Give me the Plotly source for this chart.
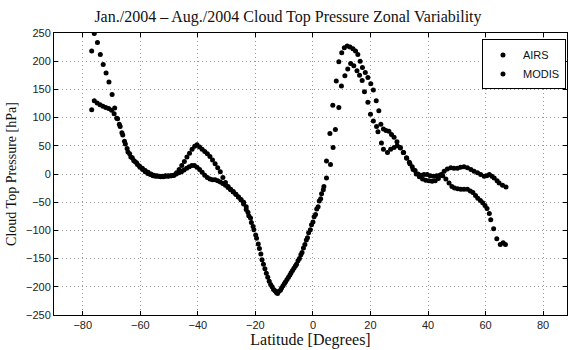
import plotly.graph_objects as go

# AIRS series (latitude, zonal CTP anomaly)
airs_lat = [-76.9, -76.0, -74.9, -73.9, -72.9, -71.9, -70.9, -69.8, -68.9, -67.9, -67.0, -66.1, -65.2,
            -64.3, -63.3, -62.3, -61.3, -60.3, -59.3, -58.3, -57.3, -56.3, -55.3, -54.3, -53.3, -52.3,
            -51.3, -50.3, -49.3, -48.3, -47.4, -46.5, -45.6, -44.7, -43.8, -42.9, -42.0, -41.1, -40.3,
            -39.4, -38.5, -37.6, -36.7, -35.8, -34.9, -34.0, -33.1, -32.2, -31.3, -30.4, -29.5, -28.6,
            -27.7, -26.8, -25.9, -25.0, -24.1, -23.2, -22.3, -21.4, -20.5, -19.6, -18.6, -17.7, -16.7,
            -15.7, -14.7, -13.7, -12.7, -11.8, -10.9, -9.9, -9.0, -8.0, -7.1, -6.1, -5.2, -4.2, -3.3,
            -2.3, -1.5, -0.5, 0.4, 1.3, 2.2, 3.0, 3.8, 4.7, 5.9, 6.9, 8.1, 9.0, 10.0, 10.9, 11.9, 12.9,
            13.9, 14.8, 15.6, 16.4, 17.2, 18.2, 19.1, 20.1, 21.0, 22.0, 22.9, 23.6, 24.5, 25.4, 26.4,
            27.3, 28.2, 29.2, 30.3, 31.4, 32.5, 33.5, 34.5, 35.5, 36.5, 37.5, 38.6, 39.7, 40.8, 41.9,
            43.0, 44.1, 45.1, 46.2, 47.3, 48.3, 49.2, 50.3, 51.4, 52.5, 53.7, 54.7, 55.6, 56.5, 57.3,
            58.2, 59.0, 59.8, 60.5, 61.3, 61.8, 62.8, 63.9, 65.1, 66.1, 66.9]
airs_val = [218, 249, 233, 212, 194, 179, 163, 141, 117, 98, 84, 69, 53,
            39, 30, 24, 20, 14, 10, 6, 3, 0, -2, -3, -4, -4,
            -3, -3, -3, -2, 2, 8, 15, 22, 30, 37, 44, 49, 52,
            48, 44, 40, 36, 31, 25, 18, 11, 4, -6, -15, -22, -27,
            -31, -36, -41, -46, -53, -63, -74, -86, -99, -114, -132, -152, -168,
            -183, -196, -205, -210, -208, -202, -194, -187, -179, -171, -163, -154, -143, -131,
            -117, -104, -90, -76, -62, -48, -35, -22, 23, 72, 122, 165, 199, 215, 224, 227, 225,
            222, 218, 212, 200, 189, 180, 171, 160, 149, 130, 112, 88, 80, 77, 76,
            70, 65, 57, 47, 38, 29, 21, 13, 6, 0, -2, -1, -1, -3, -4,
            -3, -2, -3, -9, -16, -22, -25, -26, -27, -27, -27, -30, -33, -38, -43,
            -47, -51, -56, -61, -70, -81, -97, -115, -125, -122, -125]

# MODIS series
modis_lat = [-76.9, -76.0, -75.0, -74.0, -73.0, -72.0, -71.0, -70.0, -69.1, -68.2, -67.3, -66.4, -65.5,
             -64.6, -63.7, -62.8, -61.9, -61.0, -60.1, -59.2, -58.3, -57.4, -56.5, -55.6, -54.7, -53.8,
             -52.9, -52.0, -51.1, -50.2, -49.3, -48.4, -47.5, -46.6, -45.7, -44.8, -43.9, -43.0, -42.1,
             -41.2, -40.3, -39.4, -38.5, -37.6, -36.7, -35.8, -34.9, -34.0, -33.1, -32.2, -31.3, -30.4,
             -29.5, -28.6, -27.7, -26.8, -25.9, -25.0, -24.1, -23.2, -22.6, -21.7, -20.8, -19.9, -19.0,
             -18.1, -17.2, -16.2, -15.2, -14.2, -13.2, -12.3, -11.3, -10.4, -9.5, -8.5, -7.6, -6.6, -5.7,
             -4.7, -3.8, -2.8, -1.9, -0.9, 0.0, 0.9, 1.8, 2.7, 3.6, 4.7, 6.1, 7.0, 7.8, 9.0, 9.9, 11.1,
             12.1, 13.1, 14.2, 15.3, 16.2, 17.1, 17.9, 19.1, 20.0, 21.0, 22.1, 22.6, 23.8, 24.5, 25.9,
             27.0, 28.2, 29.3, 30.4, 31.5, 32.6, 33.7, 34.8, 35.9, 37.0, 38.1, 39.2, 40.3, 41.4, 42.5,
             43.6, 44.6, 45.6, 46.7, 47.9, 49.0, 50.2, 51.3, 52.5, 53.7, 54.9, 56.0, 57.2, 58.3, 59.5,
             60.4, 61.3, 62.2, 63.0, 64.0, 64.7, 65.9, 67.1]
modis_val = [114, 130, 126, 123, 120, 118, 116, 113, 107, 99, 88, 73, 58,
             45, 36, 29, 22, 17, 12, 8, 4, 1, -1, -3, -4, -4,
             -5, -5, -4, -4, -3, -2, 0, 2, 4, 7, 10, 13, 15,
             15, 12, 8, 3, -2, -6, -9, -10, -10, -12, -14, -17, -20,
             -24, -28, -32, -36, -41, -45, -50, -58, -68, -78, -93, -108, -124,
             -142, -160, -176, -190, -200, -207, -212, -206, -198, -191, -183, -175, -167, -160,
             -150, -139, -125, -113, -99, -85, -72, -58, -44, -28, -7, 17, 47, 79, 118, 156, 174,
             186, 196, 192, 183, 175, 166, 146, 127, 106, 94, 84, 75, 55, 44, 38,
             44, 47, 50, 46, 38, 28, 18, 8, 0, -5, -9, -11, -12, -13, -12,
             -8, -1, 5, 9, 11, 10, 10, 12, 13, 11, 8, 5, 2, -1, -4,
             -3, -1, -4, -7, -12, -16, -20, -23]

x_ticks = [-80, -60, -40, -20, 0, 20, 40, 60, 80]
y_ticks = [-250, -200, -150, -100, -50, 0, 50, 100, 150, 200, 250]

serif = "Liberation Serif"
sans = "Liberation Sans"

fig = go.Figure()
fig.add_trace(go.Scatter(x=airs_lat, y=airs_val, mode="markers", name="AIRS",
                         marker=dict(color="black", size=5)))
fig.add_trace(go.Scatter(x=modis_lat, y=modis_val, mode="markers", name="MODIS",
                         marker=dict(color="black", size=5)))

axis_common = dict(showline=True, linecolor="black", linewidth=1, mirror="ticks",
                   ticks="inside", ticklen=4, tickcolor="black",
                   showgrid=True, gridcolor="#999", gridwidth=1, griddash="1px,3px",
                   zeroline=False, tickfont=dict(family=sans, size=11, color="#222"))

fig.update_layout(
    width=568, height=350,
    margin=dict(l=54, r=1, t=33, b=35),
    paper_bgcolor="white", plot_bgcolor="white",
    title=dict(text="Jan./2004 \u2013 Aug./2004 Cloud Top Pressure Zonal Variability",
               x=0.507, xanchor="center", y=0.952, yanchor="middle",
               font=dict(family=serif, size=16, color="#111")),
    xaxis=dict(range=[-90, 88.3], tickvals=x_ticks,
               title=dict(text="Latitude [Degrees]", font=dict(family=serif, size=16, color="#111"),
                          standoff=3),
               **axis_common),
    yaxis=dict(range=[-250, 250], tickvals=y_ticks,
               title=dict(text="Cloud Top Pressure [hPa]", font=dict(family=serif, size=14, color="#111"),
                          standoff=6),
               **axis_common),
    legend=dict(x=0.998, xanchor="right", y=0.977, yanchor="top",
                bgcolor="white", bordercolor="black", borderwidth=1,
                font=dict(family=sans, size=11, color="#111"),
                tracegroupgap=0, itemwidth=30),
    showlegend=True,
)

fig.write_html("out.html")
